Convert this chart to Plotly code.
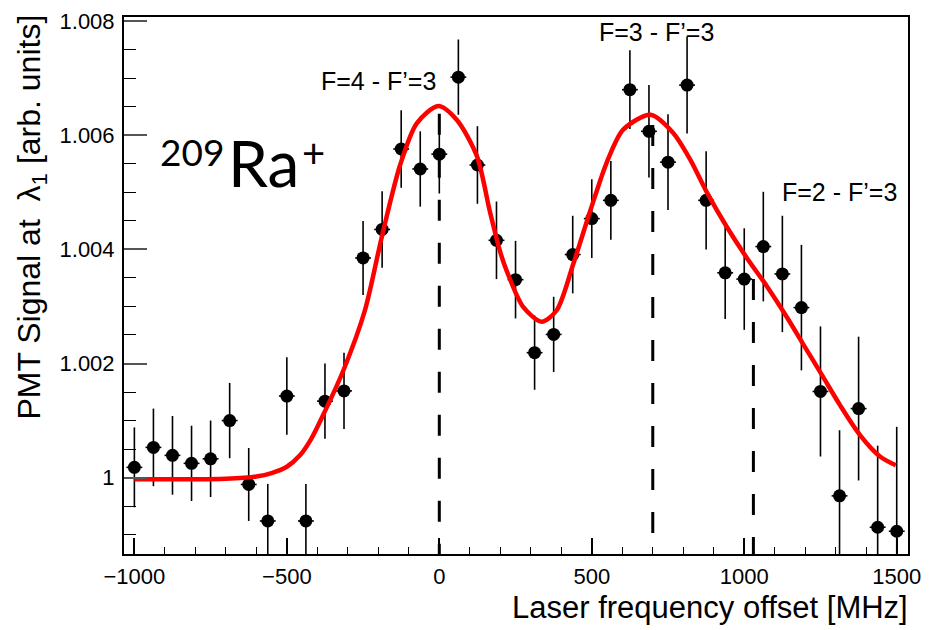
import plotly.graph_objects as go

# ---------------- data ----------------
freq = [-1000, -937.5, -875, -812.5, -750, -687.5, -625, -562.5, -500, -437.5,
        -375, -312.5, -250, -187.5, -125, -62.5, 0, 62.5, 125, 187.5,
        250, 312.5, 375, 437.5, 500, 562.5, 625, 687.5, 750, 812.5,
        875, 937.5, 1000, 1062.5, 1125, 1187.5, 1250, 1312.5, 1375, 1437.5, 1500]
signal = [1.00018, 1.00053, 1.00039, 1.00025, 1.00033, 1.00100, 0.99988, 0.99924, 1.00143, 0.99924,
          1.00134, 1.00152, 1.00385, 1.00435, 1.00576, 1.00541, 1.00567, 1.00702, 1.00548, 1.00416,
          1.00347, 1.00219, 1.00251, 1.00391, 1.00454, 1.00486, 1.00680, 1.00607, 1.00553, 1.00688,
          1.00486, 1.00359, 1.00348, 1.00405, 1.00357, 1.00298, 1.00151, 0.99968, 1.00121, 0.99913, 0.99906]
signal_err = [0.00070, 0.00068, 0.00069, 0.00066, 0.00067, 0.00066, 0.00064, 0.00065, 0.00068, 0.00065,
              0.00066, 0.00067, 0.00065, 0.00067, 0.00068, 0.00066, 0.00069, 0.00066, 0.00068, 0.00068,
              0.00068, 0.00065, 0.00066, 0.00068, 0.00069, 0.00069, 0.00069, 0.00081, 0.00084, 0.00085,
              0.00086, 0.00081, 0.00089, 0.00096, 0.00102, 0.00110, 0.00114, 0.00115, 0.00126, 0.00143, 0.00183]
freq_err = [26] * len(freq)

fit_x = [-1000, -850, -700, -600, -550, -500, -457, -420, -378, -313, -244, -189, -129, -74, -3,
         57, 123, 166, 199, 221, 275, 336, 385, 439, 494, 549, 603, 693, 767, 822, 877, 942,
         1008, 1073, 1139, 1192, 1258, 1314, 1379, 1445, 1497]
fit_y = [0.99997, 0.99997, 0.99998, 1.00002, 1.00008, 1.00019, 1.00039, 1.00068, 1.00113,
         1.00190, 1.00293, 1.00421, 1.00547, 1.00621, 1.006515, 1.006273, 1.005639, 1.00466,
         1.003969, 1.003623, 1.002991, 1.002732, 1.002933, 1.003739, 1.00466, 1.005523, 1.0061,
         1.006359, 1.006041, 1.005582, 1.005005, 1.004401, 1.003855, 1.003364, 1.002819, 1.00235,
         1.00177, 1.00127, 1.00075, 1.00037, 1.000216]

transition_freq = [0, 700, 1030]
transition_top = [1.00638, 1.00618, 1.00348]
transition_labels = ["F=4 - F\u2019=3", "F=3 - F\u2019=3", "F=2 - F\u2019=3"]

isotope_parts = ["209", "Ra", "+"]

xtick_vals = [-1000, -500, 0, 500, 1000, 1500]
ytick_vals = [1.000, 1.002, 1.004, 1.006, 1.008]
ytick_text = ["1", "1.002", "1.004", "1.006", "1.008"]

x_range = [-1034, 1537]
y_range = [0.998661, 1.008074]

# ---------------- figure ----------------
FONT = "Liberation Sans, Arial, sans-serif"
ISO_FONT = "Lato, Noto Sans, sans-serif"
fig = go.Figure()

for fx, ft in zip(transition_freq, transition_top):
    fig.add_trace(go.Scatter(
        x=[fx, fx], y=[ft, y_range[0]], mode="lines",
        line=dict(color="black", width=3, dash="21px,22px"),
        showlegend=False, hoverinfo="skip"))

fig.add_trace(go.Scatter(
    x=freq, y=signal, mode="markers",
    marker=dict(color="black", size=13),
    error_y=dict(type="data", array=signal_err, color="black", thickness=1.6, width=0),
    error_x=dict(type="data", array=freq_err, color="black", thickness=1.6, width=0),
    showlegend=False))

fig.add_trace(go.Scatter(
    x=fit_x, y=fit_y, mode="lines",
    line=dict(color="#ff0000", width=4.5, shape="spline", smoothing=0.8),
    showlegend=False))

label_pos = [(0.324, 0.8807), (0.6786, 0.9725), (0.912, 0.675)]
for txt, (px, py) in zip(transition_labels, label_pos):
    fig.add_annotation(x=px, y=py, xref="paper", yref="paper", text=txt, showarrow=False,
                       xanchor="center", yanchor="middle",
                       font=dict(family=FONT, size=25, color="black"))

# isotope label: mass number, symbol, charge
iso_pos = [(0.0867, 0.7504, 37), (0.178, 0.7284, 64), (0.2411, 0.7467, 40)]
for txt, (px, py, fs) in zip(isotope_parts, iso_pos):
    fig.add_annotation(x=px, y=py, xref="paper", yref="paper", text=txt, showarrow=False,
                       xanchor="center", yanchor="middle",
                       font=dict(family=ISO_FONT, size=fs, color="black"))

fig.add_annotation(x=1.0026, y=-0.099, xref="paper", yref="paper",
                   text="Laser frequency offset [MHz]", showarrow=False,
                   xanchor="right", yanchor="middle",
                   font=dict(family=FONT, size=31, color="black"))

fig.add_annotation(x=-0.1173, y=1.0073, xref="paper", yref="paper",
                   text="PMT Signal at  \u03bb<sub>1</sub> [arb. units]", showarrow=False,
                   textangle=-90, xanchor="center", yanchor="top",
                   font=dict(family=FONT, size=32, color="black"))

fig.update_layout(
    width=936, height=630,
    margin=dict(l=124, r=28, t=9, b=76),
    paper_bgcolor="white", plot_bgcolor="white",
    showlegend=False,
    xaxis=dict(range=x_range, tickvals=xtick_vals, ticks="inside", ticklen=16, tickwidth=1.5,
               tickcolor="black", showgrid=False, zeroline=False,
               showline=True, linecolor="black", linewidth=2, mirror=True,
               tickfont=dict(family=FONT, size=22, color="black"),
               minor=dict(dtick=100, ticks="inside", ticklen=7, tickwidth=1.2, tickcolor="black"),
               ticklabelstandoff=2),
    yaxis=dict(range=y_range, tickvals=ytick_vals, ticktext=ytick_text, ticks="inside",
               ticklen=23, tickwidth=1.5, tickcolor="#555555", showgrid=False, zeroline=False,
               showline=True, linecolor="black", linewidth=2, mirror=True,
               tickfont=dict(family=FONT, size=22, color="black"),
               minor=dict(dtick=0.0005, ticks="inside", ticklen=12, tickwidth=1.2, tickcolor="black"),
               ticklabelstandoff=3),
)

fig.write_html("out.html")
